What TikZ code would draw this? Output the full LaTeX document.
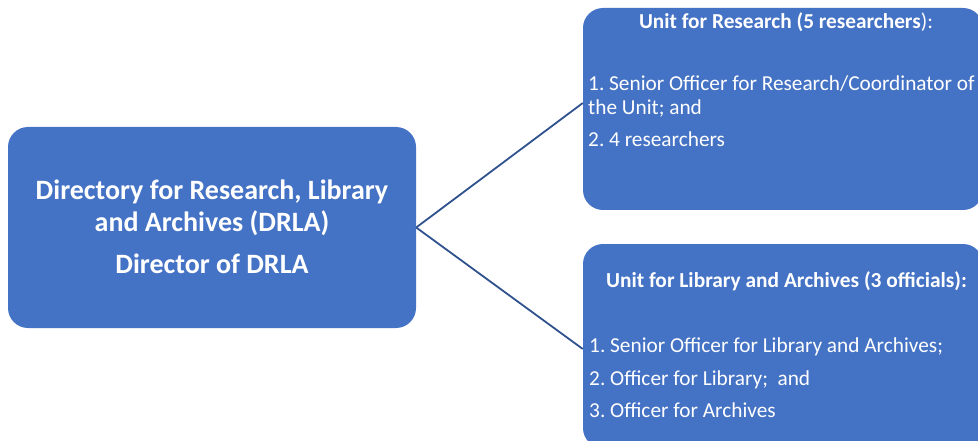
\documentclass[tikz,border=0pt]{standalone}
\usepackage{fontspec}
\setmainfont{Carlito}
\frenchspacing
\definecolor{boxblue}{HTML}{4472C4}
\definecolor{lineblue}{HTML}{2F528F}
\begin{document}
\begin{tikzpicture}[x=1pt,y=-1pt,
  box/.style={draw=none, fill=boxblue, rounded corners=20pt, inner sep=0pt},
  txt/.style={text=white, inner sep=0pt, font=\fontsize{21.3}{25}\selectfont},
  ttl/.style={text=white, inner sep=0pt, font=\fontsize{21.4}{25}\selectfont\bfseries},
  big/.style={text=white, inner sep=0pt, font=\fontsize{28}{33}\selectfont\bfseries},
  conn/.style={draw=lineblue, line width=1.8pt}]
\useasboundingbox (0,0) rectangle (978,441);
\begin{scope}
\clip (0,0) rectangle (978,441);
\node[box, minimum width=408pt, minimum height=201pt] (L) at (212,227.5) {};
\node[box, minimum width=400pt, minimum height=202pt] (T) at (783,109) {};
\node[box, minimum width=400pt, minimum height=204pt] (B) at (783,346) {};
\end{scope}
\draw[conn] (L.east) -- ([yshift=6pt]T.west);
\draw[conn] (L.east) -- ([yshift=-3pt]B.west);
% left box text
\node[big, anchor=base] (l1) at (212,200) {Directory for Research, Library};
\node[big, anchor=base] (l2) at (212,231) {and Archives (DRLA)};
\node[big, anchor=base] (l3) at (212,273) {Director of DRLA};
% top box text
\node[txt, anchor=base] (t0) at (786,29) {\textbf{Unit for Research (5 researchers}):};
\node[txt, anchor=base west] (t1) at (588,91) {1. Senior Officer for Research/Coordinator of};
\node[txt, anchor=base west] (t2) at (588,115) {the Unit; and};
\node[txt, anchor=base west] (t3) at (588,147) {2. 4 researchers};
% bottom box text
\node[ttl, anchor=base] (b0) at (786.5,287) {Unit for Library and Archives (3 officials):};
\node[txt, anchor=base west] (b1) at (589,352) {1. Senior Officer for Library and Archives;};
\node[txt, anchor=base west] (b2) at (589,385) {2. Officer for Library;\ \ and};
\node[txt, anchor=base west] (b3) at (589,417) {3. Officer for Archives};
\end{tikzpicture}
\end{document}
